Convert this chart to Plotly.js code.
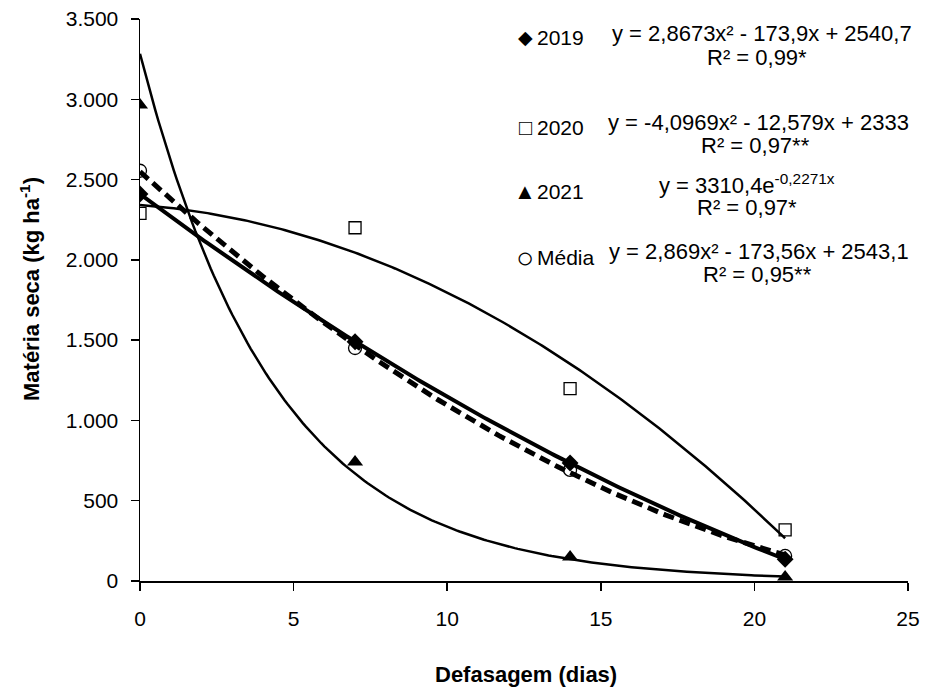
<!DOCTYPE html>
<html>
<head>
<meta charset="utf-8">
<script src="https://cdn.plot.ly/plotly-3.0.1.min.js"></script>
<style>html,body{margin:0;padding:0;background:#fff;}#chart{width:925px;height:690px;}</style>
</head>
<body>
<div id="chart"></div>
<script>
// ---- data ----
const dias = [0, 7, 14, 21];
const y2019 = [2410, 1490, 735, 135];
const y2020 = [2290, 2200, 1198, 318];
const y2021 = [2965, 741, 150, 25];
const yMedia = [2555, 1451, 692, 156];

const yTickVals = [0, 500, 1000, 1500, 2000, 2500, 3000, 3500];
const yTickText = ['0', '500', '1.000', '1.500', '2.000', '2.500', '3.000', '3.500'];
const xTickVals = [0, 5, 10, 15, 20, 25];

const eq2019 = ['y = 2,8673x² - 173,9x + 2540,7', 'R² = 0,99*'];
const eq2020 = ['y = -4,0969x² - 12,579x + 2333', 'R² = 0,97**'];
const eq2021 = ['y = 3310,4e<sup>-0,2271x</sup>', 'R² = 0,97*'];
const eqMedia = ['y = 2,869x² - 173,56x + 2543,1', 'R² = 0,95**'];

// ---- trendlines: least-squares fits of the data (as the spreadsheet does) ----
function solve3(M, v) {
  const A = M.map((r, i) => r.concat([v[i]]));
  for (let i = 0; i < 3; i++) {
    let p = i;
    for (let k = i + 1; k < 3; k++) if (Math.abs(A[k][i]) > Math.abs(A[p][i])) p = k;
    [A[i], A[p]] = [A[p], A[i]];
    for (let k = 0; k < 3; k++) {
      if (k === i) continue;
      const f = A[k][i] / A[i][i];
      for (let j = i; j < 4; j++) A[k][j] -= f * A[i][j];
    }
  }
  return [A[0][3] / A[0][0], A[1][3] / A[1][1], A[2][3] / A[2][2]];
}
function polyFit(xv, yv) {
  const S = n => xv.reduce((s, x) => s + Math.pow(x, n), 0);
  const T = n => xv.reduce((s, x, i) => s + Math.pow(x, n) * yv[i], 0);
  return solve3([[S(0), S(1), S(2)], [S(1), S(2), S(3)], [S(2), S(3), S(4)]], [T(0), T(1), T(2)]);
}
function expFit(xv, yv) {
  const ly = yv.map(Math.log);
  const n = xv.length;
  const mx = xv.reduce((a, b) => a + b, 0) / n, my = ly.reduce((a, b) => a + b, 0) / n;
  let sxy = 0, sxx = 0;
  xv.forEach((x, i) => { sxy += (x - mx) * (ly[i] - my); sxx += (x - mx) * (x - mx); });
  const b = sxy / sxx;
  return [Math.exp(my - b * mx), b];
}
const xs = [];
for (let i = 0; i <= 210; i++) xs.push(i / 10);
const quadCurve = c => xs.map(x => c[0] + c[1] * x + c[2] * x * x);
const expCurve = c => xs.map(x => c[0] * Math.exp(c[1] * x));

const FONT = 'Arial, "Liberation Sans", sans-serif';

const traces = [
  {x: xs, y: quadCurve(polyFit(dias, y2020)), mode: 'lines', line: {color: '#000', width: 2.5}, hoverinfo: 'skip'},
  {x: xs, y: expCurve(expFit(dias, y2021)), mode: 'lines', line: {color: '#000', width: 2.5}, hoverinfo: 'skip'},
  {x: xs, y: quadCurve(polyFit(dias, y2019)), mode: 'lines', line: {color: '#000', width: 4}, hoverinfo: 'skip'},
  {x: xs, y: quadCurve(polyFit(dias, yMedia)), mode: 'lines', line: {color: '#000', width: 5, dash: '11px,6px'}, hoverinfo: 'skip'},
  {x: dias, y: y2020, mode: 'markers', marker: {symbol: 'square-open', size: 12, color: '#000', line: {width: 1.3}}},
  {x: dias, y: y2021, mode: 'markers', marker: {symbol: 'triangle-up', size: 14, color: '#000'}},
  {x: dias, y: y2019, mode: 'markers', marker: {symbol: 'diamond', size: 13, color: '#000'}},
  {x: dias, y: yMedia, mode: 'markers', marker: {symbol: 'circle-open', size: 13, color: '#000', line: {width: 1.3}}}
];

// layout geometry (pixels)
const L = 140, R = 908, T = 19, B = 581;
const px = p => (p - L) / (R - L);
const py = p => (B - p) / (B - T);

const annotations = [];
function addText(text, x, y, anchor, size, angle) {
  annotations.push({text: text, xref: 'paper', yref: 'paper', x: px(x), y: py(y),
    xanchor: anchor, yanchor: 'middle', showarrow: false, textangle: angle || 0,
    font: {family: FONT, size: size || 21, color: '#000'}});
}
const blocks = [
  {sym: '◆', ss: 19, lab: '2019', eq: eq2019, ys: [38, 33, 57], cx: [762, 757]},
  {sym: '□', ss: 22, lab: '2020', eq: eq2020, ys: [128, 123, 145], cx: [758, 755]},
  {sym: '▲', ss: 22, lab: '2021', eq: eq2021, ys: [192, 184, 208], cx: [747, 747]},
  {sym: '○', ss: 30, lab: 'Média', eq: eqMedia, ys: [257, 251, 274], cx: [759, 757]}
];
blocks.forEach(b => {
  addText(b.sym, 525, b.ys[0], 'center', b.ss);
  addText(b.lab, 535, b.ys[0], 'left', 21);
  addText(b.eq[0], b.cx[0], b.ys[1], 'center', 22);
  addText(b.eq[1], b.cx[1], b.ys[2], 'center', 22);
});
// axis titles
addText('<b>Defasagem (dias)</b>', 526, 674, 'center', 22);
addText('<b>Matéria seca (kg ha<sup>-1</sup>)</b>', 30, 289, 'center', 22, -90);

const layout = {
  width: 925, height: 690,
  margin: {l: L, r: 925 - R, t: T, b: 690 - B},
  paper_bgcolor: '#fff', plot_bgcolor: '#fff',
  showlegend: false,
  font: {family: FONT, size: 21, color: '#000'},
  xaxis: {
    range: [0, 25], tickvals: xTickVals, showgrid: false, zeroline: false,
    showline: true, linecolor: '#000', linewidth: 1.5,
    ticks: 'outside', ticklen: 8, tickwidth: 1.5, tickcolor: '#000',
    ticklabelstandoff: 10,
    tickfont: {family: FONT, size: 21, color: '#000'}
  },
  yaxis: {
    range: [0, 3500], tickvals: yTickVals, ticktext: yTickText, showgrid: false, zeroline: false,
    showline: true, linecolor: '#000', linewidth: 1.5,
    ticks: 'outside', ticklen: 8, tickwidth: 1.5, tickcolor: '#000',
    ticklabelstandoff: 8,
    tickfont: {family: FONT, size: 21, color: '#000'}
  },
  annotations: annotations
};

Plotly.newPlot('chart', traces, layout, {staticPlot: true, displayModeBar: false});
</script>
</body>
</html>
